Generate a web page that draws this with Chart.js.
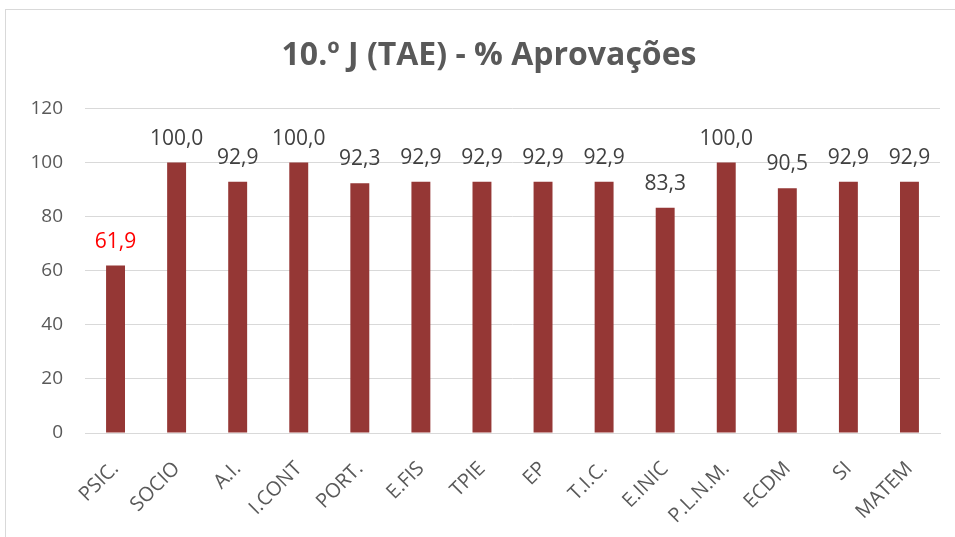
<!DOCTYPE html>
<html><head><meta charset="utf-8">
<script src="https://cdn.jsdelivr.net/npm/chart.js@4"></script>
<style>html,body{margin:0;padding:0;background:#fff}#wrap{width:955px;height:537px;position:relative}</style>
</head><body><div id="wrap"><canvas id="c" width="955" height="537"></canvas></div>
<script>
const categories = ["PSIC.","SOCIO","A.I.","I.CONT","PORT.","E.FIS","TPIE","EP","T.I.C.","E.INIC","P.L.N.M.","ECDM","SI","MATEM"];
const approvals = [61.9,100.0,92.9,100.0,92.3,92.9,92.9,92.9,92.9,83.3,100.0,90.5,92.9,92.9];
const labelColors = ["#FF0000","#404040","#404040","#404040","#404040","#404040","#404040","#404040","#404040","#404040","#404040","#404040","#404040","#404040"];
const titleText = "10.º J (TAE) - % Aprovações";

const frame = {
  id:'frame',
  afterLayout(chart){
    if (chart.titleBlock) { chart.titleBlock.left = 38; }
  },
  beforeDraw(chart){
    const ctx = chart.ctx;
    ctx.save();
    ctx.fillStyle='#fff';ctx.fillRect(0,0,chart.width,chart.height);
    ctx.strokeStyle='#d9d9d9';ctx.lineWidth=1;
    ctx.strokeRect(5.5,9.5,1200,1200);
    ctx.restore();
  }
};
const valueLabels = {
  id:'valueLabels',
  afterDatasetsDraw(chart){
    const ctx = chart.ctx;
    const meta = chart.getDatasetMeta(0);
    ctx.save();
    ctx.font = '21px "Open Sans"';
    ctx.textAlign='center';ctx.textBaseline='alphabetic';
    meta.data.forEach((bar,i)=>{
      ctx.fillStyle = labelColors[i];
      ctx.fillText(approvals[i].toFixed(1).replace('.',','), bar.x, bar.y-18);
    });
    ctx.restore();
  }
};
new Chart(document.getElementById('c'),{
  type:'bar',
  data:{labels:categories,datasets:[{data:approvals,backgroundColor:'#953735',borderWidth:0,categoryPercentage:1,barPercentage:0.31}]},
  options:{
    responsive:false,animation:false,
    layout:{padding:{left:0,right:15,top:0,bottom:0}},
    plugins:{
      legend:{display:false},tooltip:{enabled:false},
      title:{display:true,text:titleText,color:'#595959',font:{family:'"Open Sans"',size:32,weight:'bold',lineHeight:1.2},padding:{top:37,bottom:33}}
    },
    scales:{
      y:{min:0,max:120,ticks:{stepSize:20,color:'#595959',font:{family:'"Open Sans"',size:19},padding:22},
         grid:{color:'#d9d9d9',drawTicks:false},border:{display:false},
         afterFit(s){s.width=85;}},
      x:{ticks:{color:'#595959',font:{family:'"Open Sans"',size:20},minRotation:45,maxRotation:45,padding:16},
         grid:{display:false},border:{color:'#d9d9d9',width:1},
         afterFit(s){s.height=104;}}
    }
  },
  plugins:[frame,valueLabels]
});
</script></body></html>
